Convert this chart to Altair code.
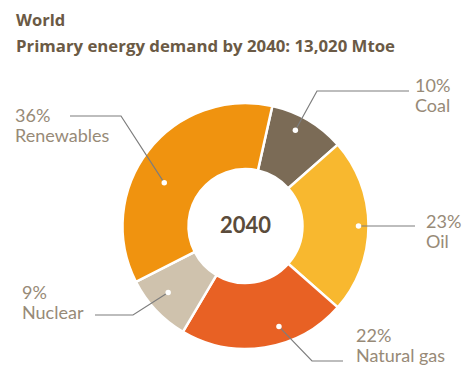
import altair as alt
import pandas as pd
import math

# ---- data ----
categories = ["Coal", "Oil", "Natural gas", "Nuclear", "Renewables"]
shares = [10, 23, 22, 9, 36]
colors = ["#7b6b56", "#f8b82f", "#e86124", "#cfc2ad", "#f0930f"]

title1 = "World"
title2 = "Primary energy demand by 2040: 13,020 Mtoe"
center_label = "2040"

W, H = 457, 380
CX, CY = 237.5, 218
R_OUT, R_IN = 123, 57
START = math.radians(12.6)

# label layout (annotation anchors): dot angle (deg), dot radius, elbow, label pos
ann = {
    "Coal":        dict(ang=27.5,  r=108, elbow=(309, 83),  end=(401, 83),  lab=(407, 84)),
    "Oil":         dict(ang=90,    r=113, elbow=(380, 218), end=(407, 218), lab=(418, 220)),
    "Natural gas": dict(ang=161.6, r=106, elbow=(304, 353), end=(335, 353), lab=(348, 334)),
    "Nuclear":     dict(ang=229.3, r=102, elbow=(125, 307), end=(87, 307),  lab=(14, 291)),
    "Renewables":  dict(ang=298,   r=92,  elbow=(113, 108), end=(62, 108),  lab=(7, 114)),
}

df = pd.DataFrame({"cat": categories, "share": shares, "order": range(len(categories))})

arc = alt.Chart(df).mark_arc(
    outerRadius=R_OUT, innerRadius=R_IN, stroke="white", strokeWidth=2.5
).encode(
    theta=alt.Theta("share:Q", stack=True,
                    scale=alt.Scale(range=[START, START + 2 * math.pi])),
    color=alt.Color("cat:N", scale=alt.Scale(domain=categories, range=colors), legend=None),
    order=alt.Order("order:Q"),
    x=alt.value(CX), y=alt.value(CY),
)

xs = alt.Scale(domain=[0, W], range=[0, W])
ys = alt.Scale(domain=[0, H], range=[0, H])

line_rows, dot_rows, lab_rows = [], [], []
for c, s in zip(categories, shares):
    a = ann[c]
    t = math.radians(a["ang"])
    dx, dy = CX + a["r"] * math.sin(t), CY - a["r"] * math.cos(t)
    pts = [(dx, dy), a["elbow"], a["end"]]
    for i, (px, py) in enumerate(pts):
        line_rows.append({"cat": c, "i": i, "px": px, "py": py})
    dot_rows.append({"cat": c, "px": dx, "py": dy})
    lab_rows.append({"cat": c, "px": a["lab"][0], "py": a["lab"][1], "t": f"{s}%"})
    lab_rows.append({"cat": c, "px": a["lab"][0], "py": a["lab"][1] + 20, "t": c})

lines = alt.Chart(pd.DataFrame(line_rows)).mark_line(color="#7d7d7d", strokeWidth=1.2).encode(
    x=alt.X("px:Q", scale=xs, axis=None),
    y=alt.Y("py:Q", scale=ys, axis=None),
    detail="cat:N",
    order="i:Q",
)
dots = alt.Chart(pd.DataFrame(dot_rows)).mark_circle(color="white", opacity=1, size=30).encode(
    x=alt.X("px:Q", scale=xs, axis=None),
    y=alt.Y("py:Q", scale=ys, axis=None),
)
labels = alt.Chart(pd.DataFrame(lab_rows)).mark_text(
    align="left", baseline="alphabetic", font="Lato", fontSize=18, color="#978a77"
).encode(
    x=alt.X("px:Q", scale=xs, axis=None),
    y=alt.Y("py:Q", scale=ys, axis=None),
    text="t:N",
)

titles_df = pd.DataFrame({
    "t": [title1, title2],
    "px": [8, 8],
    "py": [18, 44],
    "fs": [16.5, 16.8],
})
titles = alt.Chart(titles_df).mark_text(
    align="left", baseline="alphabetic", font="Open Sans", fontWeight="bold", color="#6b5a45"
).encode(
    x=alt.X("px:Q", scale=xs, axis=None),
    y=alt.Y("py:Q", scale=ys, axis=None),
    text="t:N",
    size=alt.Size("fs:Q", scale=None, legend=None),
)

center = alt.Chart(pd.DataFrame({"t": [center_label]})).mark_text(
    align="center", baseline="middle", font="Lato", fontWeight="bold",
    fontSize=22, color="#5b4c3b"
).encode(text="t:N", x=alt.value(CX), y=alt.value(CY))

chart = alt.layer(arc, lines, dots, labels, titles, center).properties(
    width=W, height=H, padding=0, autosize=alt.AutoSizeParams(type="none")
).configure_view(stroke=None)

chart.save("out.html", embed_options={"renderer": "svg", "actions": False})
